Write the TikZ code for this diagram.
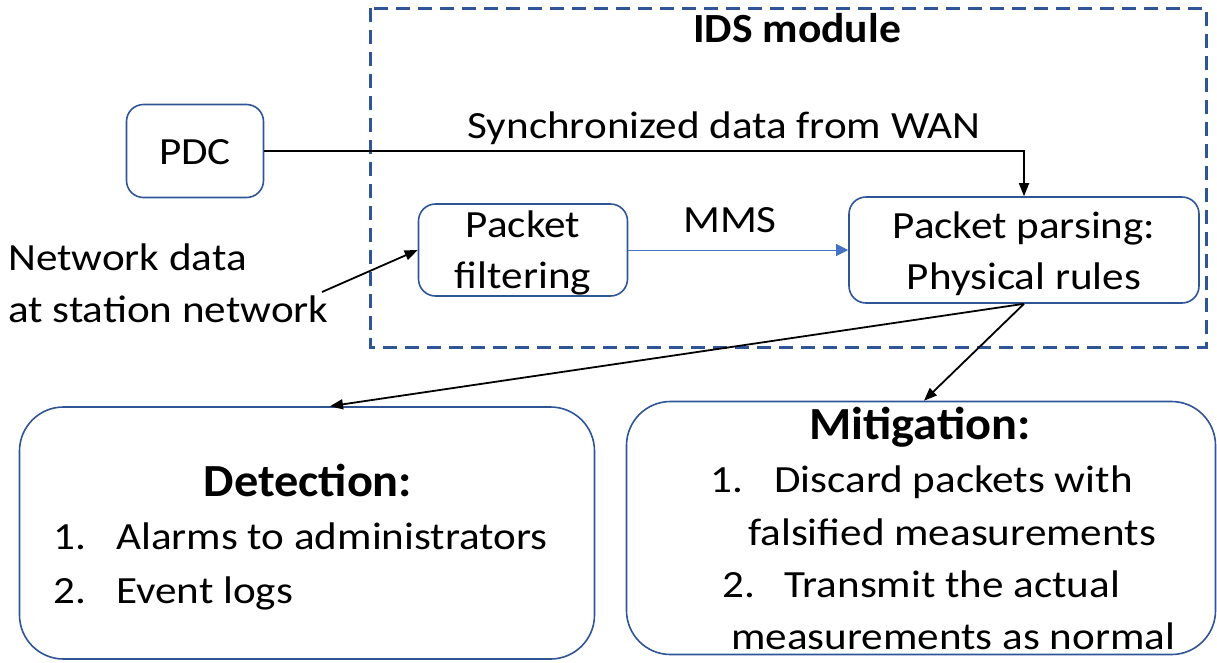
\documentclass[tikz,border=0pt]{standalone}
\usepackage{fontspec}
\setmainfont{Carlito}[FakeStretch=1.12]
\newfontfamily\headfont{Carlito}[FakeStretch=1.05]
\usetikzlibrary{arrows.meta}
\definecolor{boxblue}{HTML}{2F5597}
\definecolor{mmsblue}{HTML}{4472C4}
\tikzset{
  txt/.style={font=\fontsize{38.5}{46}\selectfont, inner sep=0pt},
  head/.style={font=\headfont\bfseries\fontsize{46}{54}\selectfont, inner sep=0pt},
  rbox/.style={draw=boxblue, line width=1.6pt, rounded corners=17pt, inner sep=0pt},
  bigbox/.style={draw=boxblue, line width=1.6pt, rounded corners=44pt, inner sep=0pt},
  conn/.style={line width=1.8pt, -{Triangle[length=13pt,width=10pt]}},
  mms/.style={draw=mmsblue, line width=1pt, -{Triangle[length=12pt,width=12pt]}, mmsblue},
}
\begin{document}
\begin{tikzpicture}[x=1pt,y=-1pt]
\useasboundingbox (0,0) rectangle (1217,662);

% IDS module frame
\draw[boxblue, line width=3pt, dash pattern=on 14pt off 8pt] (370,8) rectangle (1206,347);
\node[head, font=\headfont\bfseries\fontsize{41.5}{48}\selectfont, anchor=base] (ids) at (797,42) {IDS module};

% boxes
\node[rbox, minimum width=137pt, minimum height=93pt] (pdc) at (195,151) {};
\node[txt, anchor=base] (pdct) at (195,164) {PDC};

\node[rbox, minimum width=209pt, minimum height=92pt] (filt) at (523,250) {};
\node[txt, anchor=base] (f1) at (523,237) {Packet};
\node[txt, anchor=base] (f2) at (523,288) {filtering};

\node[rbox, minimum width=350pt, minimum height=106pt] (pars) at (1024,250) {};
\node[txt, anchor=base] (p1) at (1024,238) {Packet parsing:};
\node[txt, anchor=base] (p2) at (1024,289) {Physical rules};

\node[bigbox, minimum width=575pt, minimum height=252pt] (det) at (307,533) {};
\node[head, anchor=base] (dh) at (308,496) {Detection:};
\node[txt, anchor=base west] (d1n) at (53,549) {1.};
\node[txt, anchor=base west] (d1) at (116,549) {Alarms to administrators};
\node[txt, anchor=base west] (d2n) at (53,603) {2.};
\node[txt, anchor=base west] (d2) at (116,603) {Event logs};

\node[bigbox, minimum width=589pt, minimum height=253pt] (mit) at (921,528) {};
\node[head, anchor=base] (mh) at (920,439) {Mitigation:};
\node[txt, anchor=base west] (m1n) at (710,492) {1.};
\node[txt, anchor=base west] (m1) at (774,492) {Discard packets with};
\node[txt, anchor=base west] (m1b) at (748,545) {falsified measurements};
\node[txt, anchor=base west] (m2n) at (722,597) {2.};
\node[txt, anchor=base west] (m2) at (784,597) {Transmit the actual};
\node[txt, anchor=base west] (m2b) at (731,649) {measurements as normal};

% free text
\node[txt, anchor=base west] (net1) at (8,270) {Network data};
\node[txt, anchor=base west] (net2) at (8,322) {at station network};
\node[txt, anchor=base] (sync) at (724,138) {Synchronized data from WAN};
\node[txt, anchor=base] (mmsl) at (730,232) {MMS};

% connectors
\coordinate (netend) at (322,292);
\draw[conn] (pdc.east) -| (pars.north);
\draw[conn] (netend) -- (filt.west);
\draw[mms] (filt.east) -- (pars.west);
\draw[conn] (pars.south) -- ([xshift=23pt]det.north);
\draw[conn] (pars.south) -- ([xshift=3pt]mit.north);
\end{tikzpicture}
\end{document}
